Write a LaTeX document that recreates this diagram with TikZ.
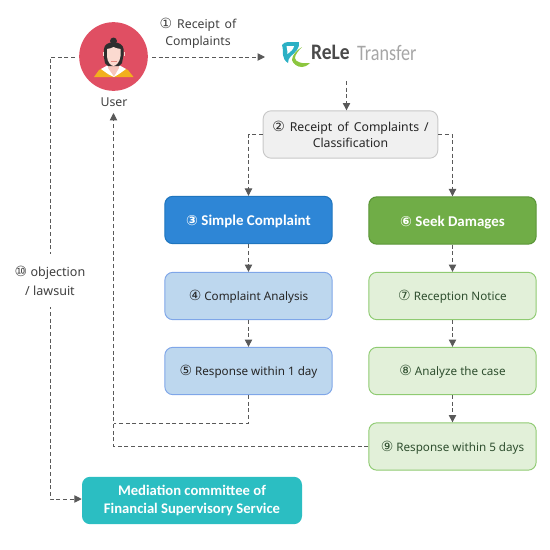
\documentclass[tikz,border=0pt]{standalone}
\usepackage{fontspec}
\setmainfont{Noto Sans}
\newfontfamily\calb{Carlito}
\newfontfamily\djv{DejaVu Sans}
\usetikzlibrary{arrows.meta,calc}
\definecolor{lnk}{HTML}{595959}
\definecolor{txt}{HTML}{404040}
\definecolor{lbd}{HTML}{7FA6E8}
\definecolor{lbf}{HTML}{BDD7EE}
\definecolor{lgd}{HTML}{8FCB72}
\definecolor{lgf}{HTML}{E2F0D9}
\definecolor{lgt}{HTML}{2F4F2F}
\definecolor{HTMLred}{HTML}{E04F63}
\definecolor{HTMLgold}{HTML}{F2B01E}
\definecolor{HTMLskin}{HTML}{F7C6BC}
\definecolor{HTMLskinb}{HTML}{FBDAD0}
\definecolor{HTMLhair}{HTML}{2E2E2E}
\definecolor{HTMLlip}{HTML}{E58A80}
\definecolor{HTMLteal}{HTML}{2BB0C4}
\definecolor{HTMLlgreen}{HTML}{8CC63F}
\definecolor{HTMLdark}{HTML}{4A4A4A}
\definecolor{HTMLlight}{HTML}{A6A6A6}
\definecolor{HTMLgb}{HTML}{C8C8C8}
\definecolor{HTMLgf}{HTML}{F0F0F0}
\definecolor{HTMLbd}{HTML}{1F75BE}
\definecolor{HTMLbf}{HTML}{2E86D6}
\definecolor{HTMLgd}{HTML}{5B9638}
\definecolor{HTMLgrf}{HTML}{70AD47}
\definecolor{HTMLteal2}{HTML}{2BBEC2}
\tikzset{
 flow/.style={draw=lnk,densely dashed,line width=0.7pt,-{Triangle[length=5.5pt,width=5.5pt]}},
 plainflow/.style={draw=lnk,densely dashed,line width=0.7pt},
 box/.style={rounded corners=6pt,minimum width=125.5pt,minimum height=35.5pt,align=center,inner sep=0pt,line width=0.7pt,font=\fontsize{8.75}{11}\selectfont},
 one/.style={text height=6.8pt,text depth=0pt},
 head/.style={box,text height=8.8pt,text depth=0pt,text=white,line width=0.8pt,font=\calb\bfseries\fontsize{11.2}{13}\selectfont},
 lb/.style={box,one,draw=lbd,fill=lbf,text=black!85},
 lg/.style={box,one,draw=lgd,fill=lgf,text=lgt},
 lab/.style={align=center,inner sep=0pt,text=txt,font=\fontsize{9.2}{13}\selectfont},
 logotext/.style={anchor=west,inner sep=0pt},
}
\newcommand{\cn}[1]{{\djv\fontsize{10.5}{11}\selectfont #1}}
\newcommand{\widesp}{\spaceskip=3.7pt\relax}
\begin{document}
\begin{tikzpicture}[x=0.75pt,y=-0.75pt]
\useasboundingbox (0,0) rectangle (550,550);
% user
\node[circle,fill=HTMLred,minimum size=51.5pt,inner sep=0pt] (user) at (113.5,56.5) {};
\fill[HTMLgold] (94,77) -- (99,70) -- (108,66) -- (119,66) -- (128,70) -- (133.5,77) -- cycle;
\fill[white] (101,69) -- (108,65) -- (119,65) -- (126,69) -- (119,74) -- (114,77) -- (108,74) -- cycle;
\fill[HTMLskin] (109,60) -- (118,60) -- (119,68) -- (114,76.5) -- (108,68) -- cycle;
\fill[HTMLhair] (113.5,41) circle (2.6pt);
\fill[HTMLhair] (104,49) .. controls (104,40) and (123,40) .. (123.5,49) -- (123.5,55) -- (122,63) -- (119,66) -- (108,66) -- (105,63) -- (103.5,55) -- cycle;
\fill[HTMLskinb] (107,49) .. controls (110,49) and (112,47.5) .. (113.5,47) .. controls (115,47.5) and (118,49) .. (120.5,49) -- (120.5,56) .. controls (120,62) and (116,66) .. (113.5,66) .. controls (111,66) and (107,62) .. (107,56) -- cycle;
\fill[HTMLskinb] (102.5,52) rectangle (104,56);
\fill[HTMLskinb] (123.5,52) rectangle (125,56);
\fill[HTMLlip] (111,60.5) rectangle (116.5,61.7);
\node[lab] (ulab) at (114,102) {User};
% logo
\fill[HTMLteal] (282,45) .. controls (283,43) and (286,42) .. (288,42) -- (299,42) .. controls (300,48) and (295,53) .. (291,56) .. controls (289,58) and (288,60) .. (288,63) .. controls (285,61) and (283,58) .. (283,55) .. controls (283,52) and (283,48) .. (282,45) -- cycle;
\fill[white] (286.5,46) -- (294,46) .. controls (294,49) and (290,52) .. (287.5,54) .. controls (287.5,51) and (287,48) .. (286.5,46) -- cycle;
\fill[HTMLlgreen] (302,47) .. controls (298,51) and (295,55) .. (295,58) .. controls (295,62) and (302,64) .. (310,63) .. controls (307,66) and (304,67) .. (302,67) .. controls (297,67) and (293,64) .. (292,60) .. controls (292,55) and (297,50) .. (302,47) -- cycle;
\node[logotext,font=\calb\bfseries\fontsize{16.6}{18}\selectfont,text=HTMLdark,xscale=0.88] (logoa) at (311,52.5) {ReLe};
\node[logotext,font=\calb\fontsize{16.6}{18}\selectfont,text=HTMLlight,xscale=0.82] (logob) at (357,52.5) {Transfer};
\coordinate (logoc) at (346.5,81);
% boxes
\node[box,draw=HTMLgb,fill=HTMLgf,text=black!85,minimum width=131pt,font=\fontsize{9.2}{11.5}\selectfont] (recv) at (350.5,134.5) {\widesp\cn{②} Receipt of Complaints /\\Classification};
\node[head,draw=HTMLbd,fill=HTMLbf] (simple) at (248.5,220) {\cn{③} Simple Complaint};
\node[head,draw=HTMLgd,fill=HTMLgrf] (seek) at (452.5,220.5) {\cn{⑥} Seek Damages};
\node[lb] (ana) at (248.5,296) {\cn{④} Complaint Analysis};
\node[lb] (r1) at (248.5,371) {\cn{⑤} Response within 1 day};
\node[lg] (rec) at (452.5,296) {\cn{⑦} Reception Notice};
\node[lg] (an2) at (452.5,371) {\cn{⑧} Analyze the case};
\node[lg] (r5) at (452.5,446.5) {\cn{⑨} Response within 5 days};
\node[rounded corners=6pt,fill=HTMLteal2,text=white,minimum width=165pt,minimum height=35.5pt,align=center,inner sep=0pt,font=\calb\bfseries\fontsize{11}{13}\selectfont] (med) at (192,500.5) {Mediation committee of\\Financial Supervisory Service};
% labels
\node[lab] (l1) at (198,33.5) {\widesp\cn{①} Receipt of\\Complaints};
% connectors
\coordinate (uw) at (75,57);
\coordinate (ue) at (152,57);
\coordinate (lw) at (265,57);
\coordinate (rt) at (113.5,113);
\coordinate (lc) at (50,499);
\draw[flow] (ue) -- (lw);
\draw[flow] (logoc) -- (recv.north -| logoc);
\draw[flow] (recv.west) -| (simple.north);
\draw[flow] (recv.east) -| (seek.north);
\draw[flow] (simple) -- (ana);
\draw[flow] (ana) -- (r1);
\draw[flow] (seek) -- (rec);
\draw[flow] (rec) -- (an2);
\draw[flow] (an2) -- (r5);
\coordinate (rj) at (248.5,423);
\draw[plainflow] (r1.south) -- (rj) -- (rj -| rt);
\draw[flow] (r5.west) -| (rt);
\draw[flow] (uw) -| (lc) -- (lc -| med.west);
\node[lab,fill=white,inner ysep=9pt,inner xsep=6pt,font=\fontsize{9.4}{14.2}\selectfont] (l10) at (50,280.5) {\cn{⑩} objection\\/ lawsuit};
\end{tikzpicture}
\end{document}
